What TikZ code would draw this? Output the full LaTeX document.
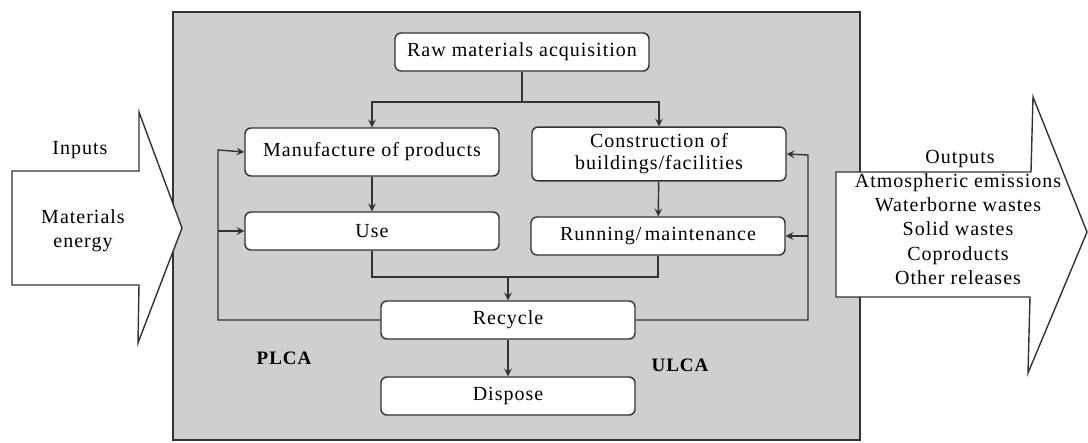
\documentclass[tikz,border=0pt]{standalone}
\usepackage{fontspec}
\setmainfont[LetterSpace=5]{Liberation Serif}
\usetikzlibrary{arrows}

\begin{document}
\begin{tikzpicture}[
        x=0.5pt, y=-0.5pt,
        stage/.style={draw, rectangle, rounded corners=3pt, minimum width=127pt, minimum height=19pt, align=center, fill=white, font=\fontsize{10}{11}\selectfont},
        tag/.style={align=center, font=\fontsize{10}{12.2}\selectfont},
        cycle/.style={font=\fontsize{9.5}{11}\selectfont\bfseries},
        arrow/.style={-stealth}
    ]
    \useasboundingbox (0,0) rectangle (1088,443);
    \begin{scope}[draw=black!80, line width=0.7pt]
    % shaded frame
    \draw[fill=gray!38] (173,12) rectangle (860,440);

    % big input and output arrows
    \draw[fill=white] (12,171) -- (139,171) -- (139,112) -- (182,228) -- (138,343) -- (139,285) -- (12,285) -- cycle;
    \draw[fill=white] (836,172) -- (1031,172) -- (1033,97) -- (1087,232) -- (1028,373) -- (1030,297) -- (836,297) -- cycle;

    \node[tag] (inputs) at (80,150) {Inputs};
    \node[tag] (inmat) at (83,231) {Materials\\energy};
    \node[tag] (outputs) at (960,159) {Outputs};
    \node[tag] (outlist) at (958,229) {Atmospheric emissions\\Waterborne wastes\\Solid wastes\\Coproducts\\Other releases};

    % stages
    \node[stage] (raw) at (522,52) {Raw materials acquisition};
    \node[stage, minimum height=24pt] (manu) at (372,152) {Manufacture of products};
    \node[stage, minimum height=24pt] (cons) at (659,154) {Construction of\\buildings/facilities};
    \node[stage] (use) at (372,231) {Use};
    \node[stage] (run) at (658,236) {Running/\,maintenance};
    \node[stage] (recycle) at (508,320) {Recycle};
    \node[stage] (dispose) at (508,396) {Dispose};

    \node[cycle] (plca) at (284,358) {PLCA};
    \node[cycle] (ulca) at (680,365) {ULCA};

    \coordinate (split) at (522,102);
    \coordinate (join) at (508,277);
    \coordinate (ltop) at (218,150);
    \coordinate (rtop) at (808,155);

    \draw (raw) -- (split);
    \draw[arrow] (split) -| (manu.north);
    \draw[arrow] (split) -| (cons.north);
    \draw[arrow] (manu) -- (use);
    \draw[arrow] (cons) -- (run);
    \draw (use.south) |- (join) -| (run.south);
    \draw[arrow] (join) -- (recycle);
    \draw[arrow] (recycle) -- (dispose);

    % feedback loops
    \draw[arrow] (recycle.west) -| (ltop) -- (manu.west);
    \draw[arrow] (ltop |- use.west) -- (use.west);
    \draw[arrow] (recycle.east) -| (rtop) -- (cons.east);
    \draw[arrow] (rtop |- run.east) -- (run.east);
    \end{scope}
\end{tikzpicture}
\end{document}
